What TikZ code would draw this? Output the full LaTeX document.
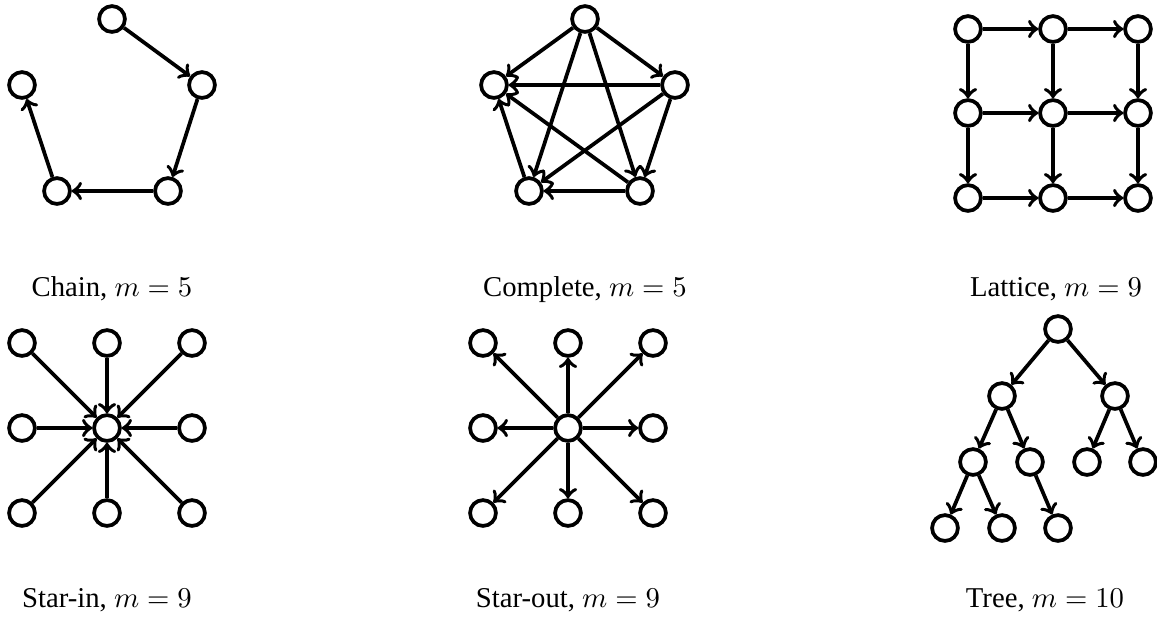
\documentclass[tikz,border=0pt]{standalone}
\usepackage{fontspec}
\setmainfont{Liberation Serif}
\begin{document}
\begin{tikzpicture}[x=0.3484pt, y=-0.3484pt]
  \tikzstyle{vertice}=[circle, draw, fill=white, line width=1.3pt, minimum size=9pt, inner sep=0pt]
  \tikzstyle{aresta}=[->, line width=1.3pt]
  \tikzstyle{legenda}=[anchor=base, inner sep=0pt]
  \useasboundingbox (0,0) rectangle (1157,616);

  % Chain
  \node[vertice] (c1) at (112,19) {};
  \node[vertice] (c2) at (202,85) {};
  \node[vertice] (c3) at (168,191) {};
  \node[vertice] (c4) at (57,191) {};
  \node[vertice] (c5) at (22,85) {};
  \draw[aresta] (c1) -- (c2);
  \draw[aresta] (c2) -- (c3);
  \draw[aresta] (c3) -- (c4);
  \draw[aresta] (c4) -- (c5);
  \node[legenda] (lchain) at (112,296) {Chain, $m=5$};

  % Complete
  \node[vertice] (k1) at (585,19) {};
  \node[vertice] (k2) at (675,85) {};
  \node[vertice] (k3) at (640,191) {};
  \node[vertice] (k4) at (529,191) {};
  \node[vertice] (k5) at (494,85) {};
  \draw[aresta] (k1) -- (k2);
  \draw[aresta] (k1) -- (k3);
  \draw[aresta] (k1) -- (k4);
  \draw[aresta] (k1) -- (k5);
  \draw[aresta] (k2) -- (k3);
  \draw[aresta] (k2) -- (k4);
  \draw[aresta] (k2) -- (k5);
  \draw[aresta] (k3) -- (k4);
  \draw[aresta] (k3) -- (k5);
  \draw[aresta] (k4) -- (k5);
  \node[legenda] (lcomplete) at (585,296) {Complete, $m=5$};

  % Lattice
  \node[vertice] (g11) at (968,29) {};
  \node[vertice] (g12) at (1053,29) {};
  \node[vertice] (g13) at (1138,29) {};
  \node[vertice] (g21) at (968,113) {};
  \node[vertice] (g22) at (1053,113) {};
  \node[vertice] (g23) at (1138,113) {};
  \node[vertice] (g31) at (968,198) {};
  \node[vertice] (g32) at (1053,198) {};
  \node[vertice] (g33) at (1138,198) {};
  \draw[aresta] (g11) -- (g12);
  \draw[aresta] (g12) -- (g13);
  \draw[aresta] (g21) -- (g22);
  \draw[aresta] (g22) -- (g23);
  \draw[aresta] (g31) -- (g32);
  \draw[aresta] (g32) -- (g33);
  \draw[aresta] (g11) -- (g21);
  \draw[aresta] (g21) -- (g31);
  \draw[aresta] (g12) -- (g22);
  \draw[aresta] (g22) -- (g32);
  \draw[aresta] (g13) -- (g23);
  \draw[aresta] (g23) -- (g33);
  \node[legenda] (llattice) at (1056,296) {Lattice, $m=9$};

  % Star-in
  \node[vertice] (i0) at (107,428) {};
  \node[vertice] (i1) at (22,343) {};
  \node[vertice] (i2) at (107,343) {};
  \node[vertice] (i3) at (192,343) {};
  \node[vertice] (i4) at (22,428) {};
  \node[vertice] (i5) at (192,428) {};
  \node[vertice] (i6) at (22,513) {};
  \node[vertice] (i7) at (107,513) {};
  \node[vertice] (i8) at (192,513) {};
  \draw[aresta] (i1) -- (i0);
  \draw[aresta] (i2) -- (i0);
  \draw[aresta] (i3) -- (i0);
  \draw[aresta] (i4) -- (i0);
  \draw[aresta] (i5) -- (i0);
  \draw[aresta] (i6) -- (i0);
  \draw[aresta] (i7) -- (i0);
  \draw[aresta] (i8) -- (i0);
  \node[legenda] (lstarin) at (107,607) {Star-in, $m=9$};

  % Star-out
  \node[vertice] (o0) at (568,428) {};
  \node[vertice] (o1) at (483,343) {};
  \node[vertice] (o2) at (568,343) {};
  \node[vertice] (o3) at (653,343) {};
  \node[vertice] (o4) at (483,428) {};
  \node[vertice] (o5) at (653,428) {};
  \node[vertice] (o6) at (483,513) {};
  \node[vertice] (o7) at (568,513) {};
  \node[vertice] (o8) at (653,513) {};
  \draw[aresta] (o0) -- (o1);
  \draw[aresta] (o0) -- (o2);
  \draw[aresta] (o0) -- (o3);
  \draw[aresta] (o0) -- (o4);
  \draw[aresta] (o0) -- (o5);
  \draw[aresta] (o0) -- (o6);
  \draw[aresta] (o0) -- (o7);
  \draw[aresta] (o0) -- (o8);
  \node[legenda] (lstarout) at (568,607) {Star-out, $m=9$};

  % Tree
  \node[vertice] (t1) at (1058,329) {};
  \node[vertice] (t2) at (1002,396) {};
  \node[vertice] (t3) at (1115,396) {};
  \node[vertice] (t4) at (973,462) {};
  \node[vertice] (t5) at (1030,462) {};
  \node[vertice] (t6) at (1087,462) {};
  \node[vertice] (t7) at (1143,462) {};
  \node[vertice] (t8) at (945,528) {};
  \node[vertice] (t9) at (1002,528) {};
  \node[vertice] (t10) at (1058,528) {};
  \draw[aresta] (t1) -- (t2);
  \draw[aresta] (t1) -- (t3);
  \draw[aresta] (t2) -- (t4);
  \draw[aresta] (t2) -- (t5);
  \draw[aresta] (t3) -- (t6);
  \draw[aresta] (t3) -- (t7);
  \draw[aresta] (t4) -- (t8);
  \draw[aresta] (t4) -- (t9);
  \draw[aresta] (t5) -- (t10);
  \node[legenda] (ltree) at (1045,607) {Tree, $m=10$};
\end{tikzpicture}
\end{document}
